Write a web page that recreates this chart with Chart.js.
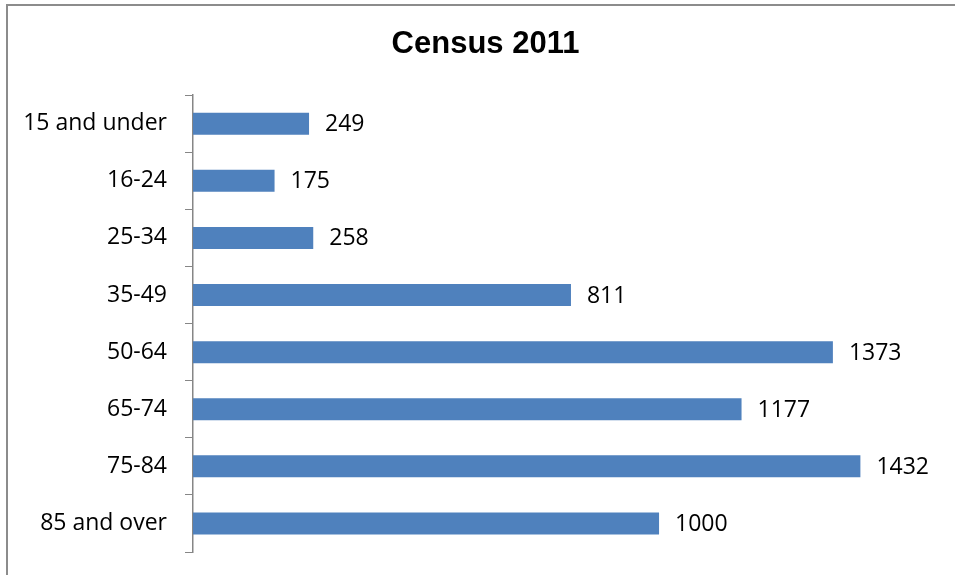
<!DOCTYPE html>
<html>
<head>
<meta charset="utf-8">
<script src="https://cdn.jsdelivr.net/npm/chart.js@4/dist/chart.umd.min.js"></script>
<style>
  body { margin: 0; background: #fff; }
  #wrap { position: absolute; left: 0; top: 0; width: 955px; height: 575px; }
  #frame { position: absolute; left: 6px; top: 4px; width: 949px; height: 571px;
           border-left: 2px solid #8c8c8c; border-top: 2px solid #8c8c8c; }
  canvas { position: absolute; left: 0; top: 0; }
</style>
</head>
<body>
<div id="wrap">
  <div id="frame"></div>
  <canvas id="census" width="955" height="575"></canvas>
</div>
<script>
const ageGroups = ["15 and under", "16-24", "25-34", "35-49", "50-64", "65-74", "75-84", "85 and over"];
const people = [249, 175, 258, 811, 1373, 1177, 1432, 1000];

const axisGrey = "#868686";
const labelFont = "23px 'Open Sans'";

// writes each value just past the end of its bar
const valueLabels = {
    id: "valueLabels",
    afterDatasetsDraw(chart) {
        const ctx = chart.ctx;
        const meta = chart.getDatasetMeta(0);
        ctx.save();
        ctx.font = labelFont;
        ctx.fillStyle = "#000";
        ctx.textAlign = "left";
        ctx.textBaseline = "middle";
        meta.data.forEach((bar, i) => {
            ctx.fillText(String(people[i]), bar.x + 16, bar.y + 1);
        });
        ctx.restore();
    }
};

const censusChart = new Chart(document.getElementById("census"),
    {
        type: "bar",
        data: {
            labels: ageGroups,
            datasets: [
                {
                    label: "Census 2011",
                    data: people,
                    backgroundColor: "#4F81BD",
                    borderWidth: 0,
                    barPercentage: 0.385,
                    categoryPercentage: 1
                }
            ]
        },
        options: {
            indexAxis: "y",
            responsive: false,
            animation: false,
            layout: {
                padding: { left: 16, right: 0, top: 0, bottom: 23 }
            },
            plugins: {
                legend: { display: false },
                tooltip: { enabled: false },
                title: {
                    display: true,
                    text: "Census 2011",
                    color: "#000",
                    font: { family: "'Liberation Sans', Arial, sans-serif", size: 31, weight: "bold", lineHeight: 1.2 },
                    padding: { top: 26, bottom: 32 }
                }
            },
            scales: {
                x: {
                    display: false,
                    min: 0,
                    max: 1635
                },
                y: {
                    afterFit(scale) {
                        scale.width = 177;
                        scale.paddingTop = 0;
                        scale.paddingBottom = 0;
                    },
                    grid: {
                        display: true,
                        drawOnChartArea: false,
                        offset: true,
                        tickLength: 8,
                        color: axisGrey,
                        lineWidth: 1
                    },
                    border: { display: true, color: axisGrey, width: 1.5 },
                    ticks: {
                        color: "#000",
                        padding: 18,
                        font: { family: "'Open Sans'", size: 23 }
                    }
                }
            }
        },
        plugins: [valueLabels]
    });
</script>
</body>
</html>
